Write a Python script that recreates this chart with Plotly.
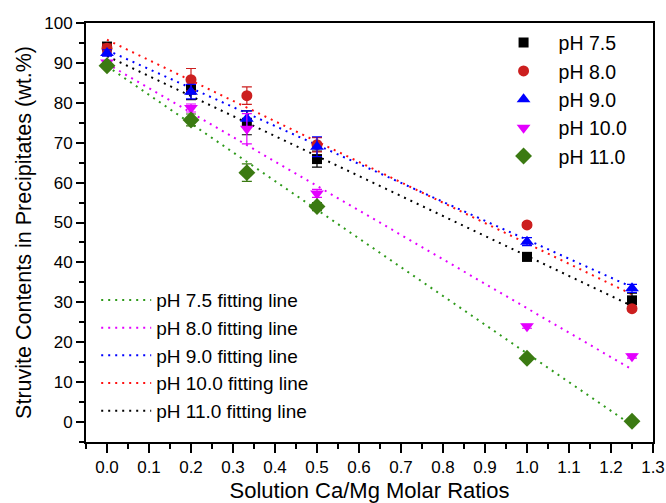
import plotly.graph_objects as go

# ---- data ----
ratios = [0.0, 0.2, 0.333, 0.5, 1.0, 1.25]
series_names = ["pH 7.5", "pH 8.0", "pH 9.0", "pH 10.0", "pH 11.0"]
ph75 = [94.1, 83.3, 75.0, 65.9, 41.4, 30.5]
ph80 = [93.7, 85.8, 81.8, 69.5, 49.4, 28.4]
ph90 = [92.5, 82.8, 76.0, 69.0, 45.2, 33.5]
ph100 = [90.1, 78.7, 73.5, 57.3, 24.0, 16.5]
ph110 = [89.3, 75.7, 62.5, 54.0, 16.0, 0.2]
err75 = [0.8, 2.5, 3.0, 2.0, 1.0, 1.8]
err80 = [1.0, 2.8, 2.2, 1.8, 0.5, 0.5]
err90 = [0.8, 1.8, 2.0, 2.5, 1.0, 1.0]
err100 = [0.5, 1.0, 3.8, 1.0, 0.5, 0.5]
err110 = [0.5, 1.5, 2.2, 1.0, 0.5, 0.5]

fit_names = ["pH 7.5 fitting line", "pH 8.0 fitting line", "pH 9.0 fitting line",
             "pH 10.0 fitting line", "pH 11.0 fitting line"]
fit_x = [0.0, 1.25]
fit_green = [89.2, -0.8]
fit_magenta = [89.8, 13.2]
fit_blue = [93.2, 33.8]
fit_red = [95.8, 32.0]
fit_black = [91.7, 29.1]

x_ticks = [0.0, 0.1, 0.2, 0.3, 0.4, 0.5, 0.6, 0.7, 0.8, 0.9, 1.0, 1.1, 1.2, 1.3]
x_ticklabels = ["0.0", "0.1", "0.2", "0.3", "0.4", "0.5", "0.6", "0.7", "0.8", "0.9",
                "1.0", "1.1", "1.2", "1.3"]
y_ticks = [0, 10, 20, 30, 40, 50, 60, 70, 80, 90, 100]

# ---- styles ----
BLACK = "#000000"
RED = "#cc1f1f"
BLUE = "#0000ff"
MAGENTA = "#e400ff"
GREEN = "#3b7a12"
FONT = "Arial, Liberation Sans, sans-serif"

fig = go.Figure()

# fitting lines (second legend)
fit_sets = [(fit_green, "#2e9a1a"), (fit_magenta, MAGENTA), (fit_blue, BLUE),
            (fit_red, "#ff1010"), (fit_black, BLACK)]
for name, (vals, col) in zip(fit_names, fit_sets):
    fig.add_trace(go.Scatter(
        x=fit_x, y=vals, mode="lines", name=name, legend="legend2",
        line=dict(color=col, width=2, dash="2px,5px")))

# data points (first legend)
point_sets = [
    (ph75, err75, BLACK, "square", 10),
    (ph80, err80, RED, "circle", 11),
    (ph90, err90, BLUE, "triangle-up", 12),
    (ph100, err100, MAGENTA, "triangle-down", 12),
    (ph110, err110, GREEN, "diamond", 13),
]
for name, (vals, errs, col, sym, sz) in zip(series_names, point_sets):
    fig.add_trace(go.Scatter(
        x=ratios, y=vals, mode="markers", name=name, legend="legend",
        marker=dict(color=col, symbol=sym, size=sz, line=dict(width=0)),
        error_y=dict(type="data", array=errs, visible=True, color=col,
                     thickness=1.2, width=5)))

fig.update_layout(
    width=666, height=503,
    margin=dict(l=86, r=13, t=23, b=61),
    paper_bgcolor="white", plot_bgcolor="white",
    font=dict(family=FONT, size=17, color="black"),
    showlegend=True,
    legend=dict(x=0.710, y=0.999, xanchor="left", yanchor="top",
                bgcolor="rgba(0,0,0,0)", font=dict(size=19.5), tracegroupgap=0,
                itemwidth=60),
    legend2=dict(x=0.018, y=0.384, xanchor="left", yanchor="top",
                 bgcolor="rgba(0,0,0,0)", font=dict(size=19), tracegroupgap=0,
                 itemwidth=50),
    xaxis=dict(range=[-0.05, 1.3], tickvals=x_ticks, ticktext=x_ticklabels,
               ticks="outside", ticklen=9, tickwidth=1.5, tickcolor="black",
               minor=dict(dtick=0.05, ticks="outside", ticklen=5, tickwidth=1.5,
                          tickcolor="black", tick0=0),
               showline=True, linecolor="black", linewidth=2, mirror=True,
               showgrid=False, zeroline=False, automargin=False,
               title=dict(text="Solution Ca/Mg Molar Ratios", font=dict(size=22),
                          standoff=7)),
    yaxis=dict(range=[-5, 100], tickvals=y_ticks,
               ticks="outside", ticklen=8, tickwidth=1.5, tickcolor="black",
               minor=dict(dtick=5, ticks="outside", ticklen=5, tickwidth=1.5,
                          tickcolor="black", tick0=0),
               showline=True, linecolor="black", linewidth=2, mirror=True,
               showgrid=False, zeroline=False, automargin=False,
               title=dict(text="Struvite Contents in Precipitates (wt.%)",
                          font=dict(size=21.5), standoff=7)),
)

fig.write_html("out.html", config={"displayModeBar": False},
               post_script="document.body.style.margin='0';document.body.style.overflow='hidden';")
